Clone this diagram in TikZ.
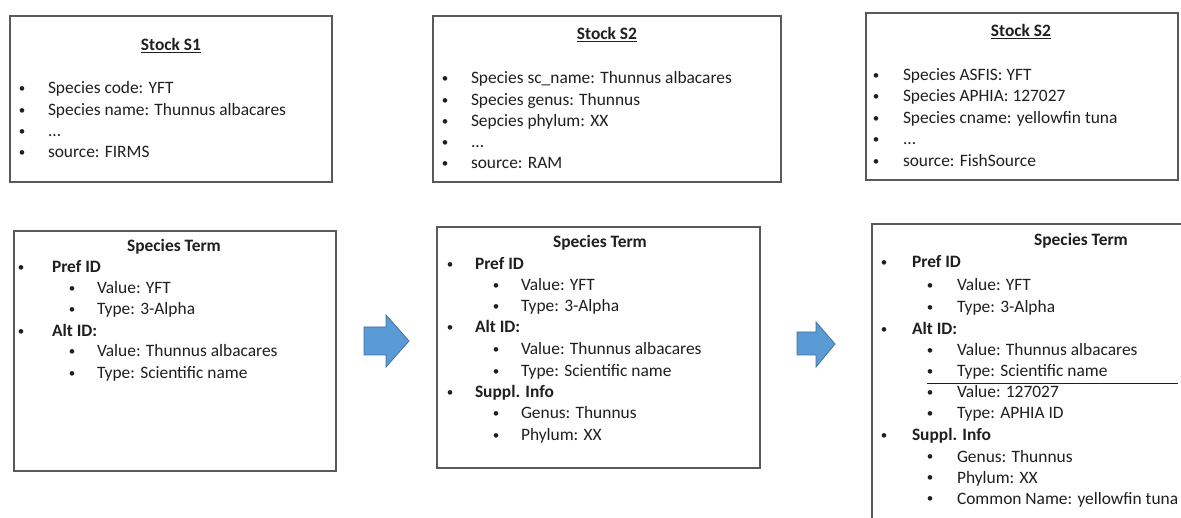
\documentclass[tikz,border=0pt]{standalone}
\usepackage{fontspec}
\setmainfont{Carlito}
\newlength{\du}
\setlength{\du}{1\unitlength}
\definecolor{dialinecolor}{rgb}{0.120000, 0.120000, 0.120000}
\definecolor{diaboxcolor}{rgb}{0.350000, 0.350000, 0.350000}
\definecolor{diaarrowcolor}{rgb}{0.357000, 0.608000, 0.835000}
\definecolor{diaarrowline}{rgb}{0.255000, 0.443000, 0.612000}
\tikzset{
  diabox/.style={draw=diaboxcolor,line width=1.2pt,fill=white,inner sep=0pt,outer sep=0pt,anchor=north west},
  diatext/.style={inner sep=0pt,outer sep=0pt,color=dialinecolor,font=\fontsize{17.4}{21}\selectfont},
  diadot/.style={inner sep=0pt,outer sep=0pt,color=dialinecolor,anchor=base,font=\fontsize{13}{13}\selectfont},
  diaarrow/.style={fill=diaarrowcolor,draw=diaarrowline,line width=0.8pt}
}
% bullet line: name, bullet x, text x, baseline y, text
\newcommand{\dialine}[5]{%
\node[diadot] (#1b) at (#2\du,#4\du-1.3\du){\textbullet};
\node[diatext,anchor=base west] (#1) at (#3\du,#4\du){#5};
}

\begin{document}
\begin{tikzpicture}
\pgftransformxscale{1.000000}
\pgftransformyscale{-1.000000}
\useasboundingbox (0\du,0\du) rectangle (1181\du,518\du);
\clip (0\du,0\du) rectangle (1181\du,518\du);
% stock S1
\node[diabox,minimum width=322\du,minimum height=166\du] (stockA) at (10\du,16\du){};
\node[diatext,anchor=base] (stockAt) at (171\du,51\du){\textbf{\underline{Stock S1}}};
\dialine{sa1}{22}{48}{94}{Species code: YFT}
\dialine{sa2}{22}{48}{116}{Species name: Thunnus albacares}
\dialine{sa3}{22}{48}{137}{...}
\dialine{sa4}{22}{48}{158}{source: FIRMS}
% stock S2 (RAM)
\node[diabox,minimum width=348\du,minimum height=166\du] (stockB) at (433\du,16\du){};
\node[diatext,anchor=base] (stockBt) at (607\du,40\du){\textbf{\underline{Stock S2}}};
\dialine{sb1}{445}{471}{84}{Species sc\_name: Thunnus albacares}
\dialine{sb2}{445}{471}{106}{Species genus: Thunnus}
\dialine{sb3}{445}{471}{127}{Sepcies phylum: XX}
\dialine{sb4}{445}{471}{148}{...}
\dialine{sb5}{445}{471}{169}{source: RAM}
% stock S2 (FishSource)
\node[diabox,minimum width=312\du,minimum height=167\du] (stockC) at (866\du,13\du){};
\node[diatext,anchor=base] (stockCt) at (1021\du,37\du){\textbf{\underline{Stock S2}}};
\dialine{sc1}{876}{903}{81}{Species ASFIS: YFT}
\dialine{sc2}{876}{903}{102}{Species APHIA: 127027}
\dialine{sc3}{876}{903}{124}{Species cname: yellowfin tuna}
\dialine{sc4}{876}{903}{145}{...}
\dialine{sc5}{876}{903}{167}{source: FishSource}
% species term 1
\node[diabox,minimum width=322\du,minimum height=240\du] (termA) at (14\du,231\du){};
\node[diatext,anchor=base] (termAt) at (174\du,252\du){\textbf{Species Term}};
\dialine{ta1}{21}{52}{273}{\textbf{Pref ID}}
\dialine{ta2}{72}{97}{294}{Value: YFT}
\dialine{ta3}{72}{97}{315}{Type: 3-Alpha}
\dialine{ta4}{21}{52}{337}{\textbf{Alt ID:}}
\dialine{ta5}{72}{97}{357}{Value: Thunnus albacares}
\dialine{ta6}{72}{97}{379}{Type: Scientific name}
% species term 2
\node[diabox,minimum width=323\du,minimum height=241\du] (termB) at (437\du,227\du){};
\node[diatext,anchor=base] (termBt) at (600\du,248\du){\textbf{Species Term}};
\dialine{tb1}{450}{475}{270}{\textbf{Pref ID}}
\dialine{tb2}{496}{521}{291}{Value: YFT}
\dialine{tb3}{496}{521}{312}{Type: 3-Alpha}
\dialine{tb4}{450}{475}{333}{\textbf{Alt ID:}}
\dialine{tb5}{496}{521}{355}{Value: Thunnus albacares}
\dialine{tb6}{496}{521}{377}{Type: Scientific name}
\dialine{tb7}{450}{475}{398}{\textbf{Suppl. Info}}
\dialine{tb8}{496}{521}{419}{Genus: Thunnus}
\dialine{tb9}{496}{521}{441}{Phylum: XX}
% species term 3
\node[diabox,minimum width=330\du,minimum height=320\du] (termC) at (872\du,224\du){};
\node[diatext,anchor=base] (termCt) at (1081\du,246\du){\textbf{Species Term}};
\dialine{tc1}{884}{912}{268}{\textbf{Pref ID}}
\dialine{tc2}{930}{957}{291}{Value: YFT}
\dialine{tc3}{930}{957}{313}{Type: 3-Alpha}
\dialine{tc4}{884}{912}{335}{\textbf{Alt ID:}}
\dialine{tc5}{930}{957}{356}{Value: Thunnus albacares}
\dialine{tc6}{930}{957}{377}{Type: Scientific name}
\dialine{tc7}{930}{957}{398}{Value: 127027}
\dialine{tc8}{930}{957}{419}{Type: APHIA ID}
\dialine{tc9}{884}{912}{441}{\textbf{Suppl. Info}}
\dialine{tc10}{930}{957}{462}{Genus: Thunnus}
\dialine{tc11}{930}{957}{483}{Phylum: XX}
\dialine{tc12}{930}{957}{504}{Common Name: yellowfin tuna}
\draw[dialinecolor,line width=0.8pt] (927\du,383\du)--(1178\du,383\du);
% block arrows
\filldraw[diaarrow] (364\du,327\du)--(386\du,327\du)--(386\du,315\du)--(409\du,341\du)--(386\du,367\du)--(386\du,355\du)--(364\du,355\du)--cycle;
\filldraw[diaarrow] (797\du,332\du)--(816\du,332\du)--(816\du,322\du)--(835\du,344\du)--(816\du,367\du)--(816\du,355\du)--(797\du,355\du)--cycle;
\end{tikzpicture}
\end{document}
